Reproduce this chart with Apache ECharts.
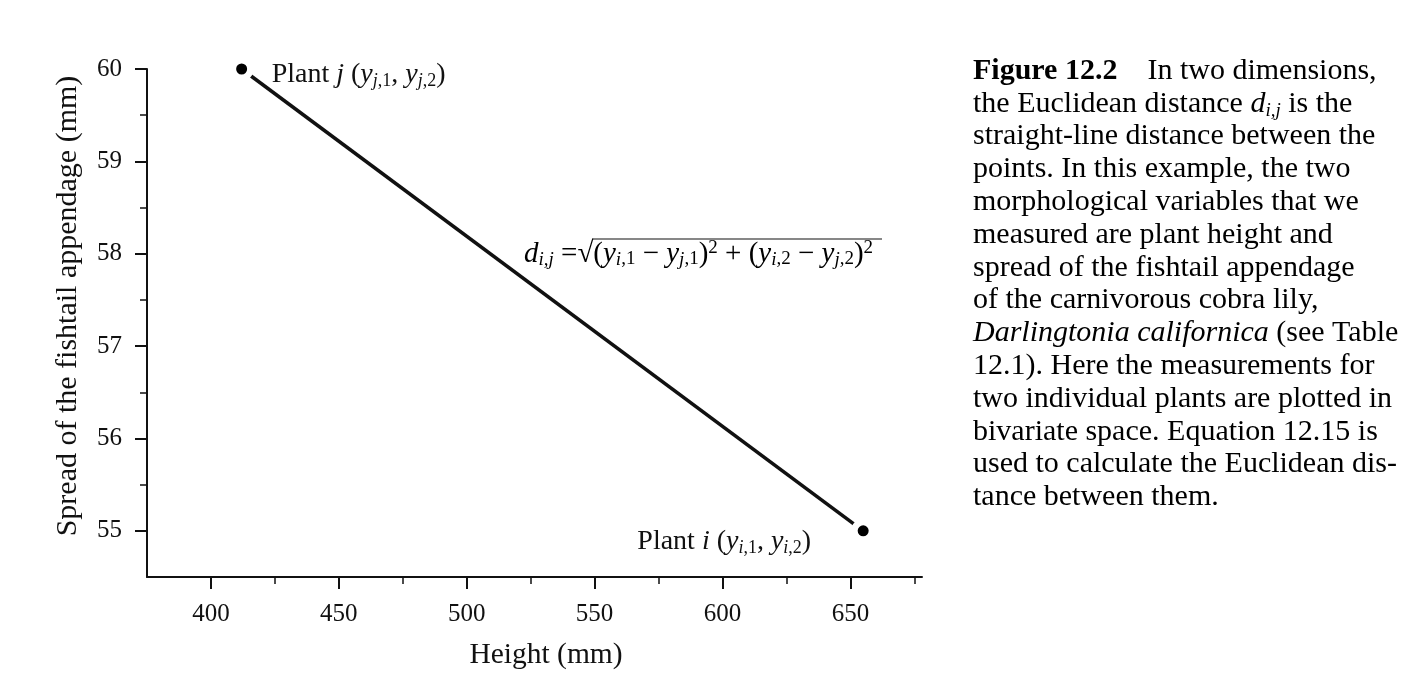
<!DOCTYPE html>
<html>
<head>
<meta charset="utf-8">
<script src="https://cdn.jsdelivr.net/npm/echarts@6/dist/echarts.min.js"></script>
<style>
html,body{margin:0;padding:0;background:#fff;}
#chart{width:1417px;height:691px;}
</style>
</head>
<body>
<div id="chart"></div>
<script>
// ---- data ----
const plantLetters = ['j', 'i'];
const heightMM = [412, 655];
const spreadMM = [60, 55];
const xMajorTicks = [400, 450, 500, 550, 600, 650];
const xMinorTicks = [425, 475, 525, 575, 625, 675];
const yMajorTicks = [55, 56, 57, 58, 59, 60];
const yMinorTicks = [55.5, 56.5, 57.5, 58.5, 59.5];
const xAxisTitle = 'Height (mm)';
const yAxisTitle = 'Spread of the fishtail appendage (mm)';
const captionLines = [
  '{cb|Figure 12.2}{cn|    In two dimensions,}',
  '{cn|the Euclidean distance }{ci|d}{csb|i,j}{cn| is the}',
  '{cn|straight-line distance between the}',
  '{cn|points. In this example, the two}',
  '{cn|morphological variables that we}',
  '{cn|measured are plant height and}',
  '{cn|spread of the fishtail appendage}',
  '{cn|of the carnivorous cobra lily,}',
  '{ci|Darlingtonia californica}{cn| (see Table}',
  '{cn|12.1). Here the measurements for}',
  '{cn|two individual plants are plotted in}',
  '{cn|bivariate space. Equation 12.15 is}',
  '{cn|used to calculate the Euclidean dis-}',
  '{cn|tance between them.}'
];

// ---- styles ----
const FONT = '"Liberation Serif", "Times New Roman", serif';
const INK = '#111';
function makeRich(fs) {
  const ss = Math.round(fs * 0.65);
  return {
    n:   {fontFamily: FONT, fontSize: fs, lineHeight: 30, verticalAlign: 'middle', color: INK},
    it:  {fontFamily: FONT, fontSize: fs, lineHeight: 30, verticalAlign: 'middle', color: INK, fontStyle: 'italic'},
    sb:  {fontFamily: FONT, fontSize: ss, lineHeight: 10, verticalAlign: 'bottom', color: INK},
    sbi: {fontFamily: FONT, fontSize: ss, lineHeight: 10, verticalAlign: 'bottom', color: INK, fontStyle: 'italic'},
    sp:  {fontFamily: FONT, fontSize: ss, lineHeight: 21, verticalAlign: 'top', color: INK}
  };
}
const rich = makeRich(28);
const formulaRich = makeRich(29);
const capRich = {
  cn:  {fontFamily: FONT, fontSize: 30, lineHeight: 32.8, verticalAlign: 'middle', color: INK},
  cb:  {fontFamily: FONT, fontSize: 30, lineHeight: 32.8, verticalAlign: 'middle', color: INK, fontWeight: 'bold'},
  ci:  {fontFamily: FONT, fontSize: 30, lineHeight: 32.8, verticalAlign: 'middle', color: INK, fontStyle: 'italic'},
  csb: {fontFamily: FONT, fontSize: 19, lineHeight: 10, verticalAlign: 'bottom', color: INK, fontStyle: 'italic'}
};

function plantLabel(p) {
  return '{n|Plant }{it|' + p + '}{n| (}{it|y}{sbi|' + p + '}{sb|,1}{n|, }{it|y}{sbi|' + p + '}{sb|,2}{n|)}';
}
const formula = '{it|d}{sbi|i,j}{n| =√(}{it|y}{sbi|i}{sb|,1}{n| − }{it|y}{sbi|j}{sb|,1}{n|)}{sp|2}{n| + (}{it|y}{sbi|i}{sb|,2}{n| − }{it|y}{sbi|j}{sb|,2}{n|)}{sp|2}';

const labelStyles = [
  {position: 'right', distance: 18, offset: [0, 6]},
  {position: 'left', distance: 40, offset: [0, 11]}
];

const pts = heightMM.map((x, k) => [x, spreadMM[k]]);
const scatterData = pts.map((v, k) => ({
  value: v,
  label: Object.assign({show: true, formatter: plantLabel(plantLetters[k]), rich: rich}, labelStyles[k])
}));

const tickLabelStyle = {fontFamily: FONT, fontSize: 25, color: INK};

const chart = echarts.init(document.getElementById('chart'), null, {renderer: 'canvas'});
chart.setOption({
  backgroundColor: '#fff',
  animation: false,
  grid: {left: 147, top: 69, width: 775, height: 508},
  xAxis: [{
    type: 'value', min: 375, max: 678, interval: 25,
    name: xAxisTitle, nameLocation: 'middle', nameGap: 63,
    nameTextStyle: {fontFamily: FONT, fontSize: 29.5, color: INK, lineHeight: 30, padding: [0, 0, 0, 23]},
    axisLine: {show: true, lineStyle: {color: INK, width: 2}},
    axisTick: {show: true, customValues: xMajorTicks, length: 12, inside: false, lineStyle: {color: INK, width: 2}},
    axisLabel: {show: true, customValues: xMajorTicks, margin: 25, ...tickLabelStyle},
    splitLine: {show: false}
  }, {
    type: 'value', min: 375, max: 678, interval: 25, position: 'bottom', offset: 0,
    axisLine: {show: false},
    axisTick: {show: true, customValues: xMinorTicks, length: 7, lineStyle: {color: INK, width: 1.5}},
    axisLabel: {show: false},
    splitLine: {show: false}
  }],
  yAxis: [{
    type: 'value', min: 54.5, max: 60, interval: 0.5,
    name: yAxisTitle, nameLocation: 'middle', nameGap: 64, nameRotate: 90,
    nameTextStyle: {fontFamily: FONT, fontSize: 30, color: INK, lineHeight: 30, padding: [0, 0, 0, 34]},
    axisLine: {show: true, lineStyle: {color: INK, width: 2}},
    axisTick: {show: true, customValues: yMajorTicks, length: 12, lineStyle: {color: INK, width: 2}},
    axisLabel: {show: true, customValues: yMajorTicks, margin: 25, ...tickLabelStyle},
    splitLine: {show: false}
  }, {
    type: 'value', min: 54.5, max: 60, interval: 0.5, position: 'left', offset: 0,
    axisLine: {show: false},
    axisTick: {show: true, customValues: yMinorTicks, length: 7, lineStyle: {color: INK, width: 1.5}},
    axisLabel: {show: false},
    splitLine: {show: false}
  }],
  series: [{
    type: 'line', data: pts, symbol: 'none', z: 2, clip: false,
    lineStyle: {color: INK, width: 3.5}
  }, {
    type: 'scatter', data: scatterData, z: 3, clip: false,
    symbol: 'circle', symbolSize: 17.5,
    itemStyle: {color: '#000', borderColor: '#fff', borderWidth: 6.5, opacity: 1},
    emphasis: {disabled: true}
  }],
  graphic: [{
    type: 'text', left: 524, top: 239, z: 10,
    style: {text: formula, rich: formulaRich}
  }, {
    type: 'line', z: 10,
    shape: {x1: 592, y1: 239, x2: 882, y2: 239},
    style: {stroke: INK, lineWidth: 1.2}
  }, {
    type: 'text', left: 973, top: 56, z: 10,
    style: {text: captionLines.join('\n'), rich: capRich}
  }]
});
</script>
</body>
</html>
